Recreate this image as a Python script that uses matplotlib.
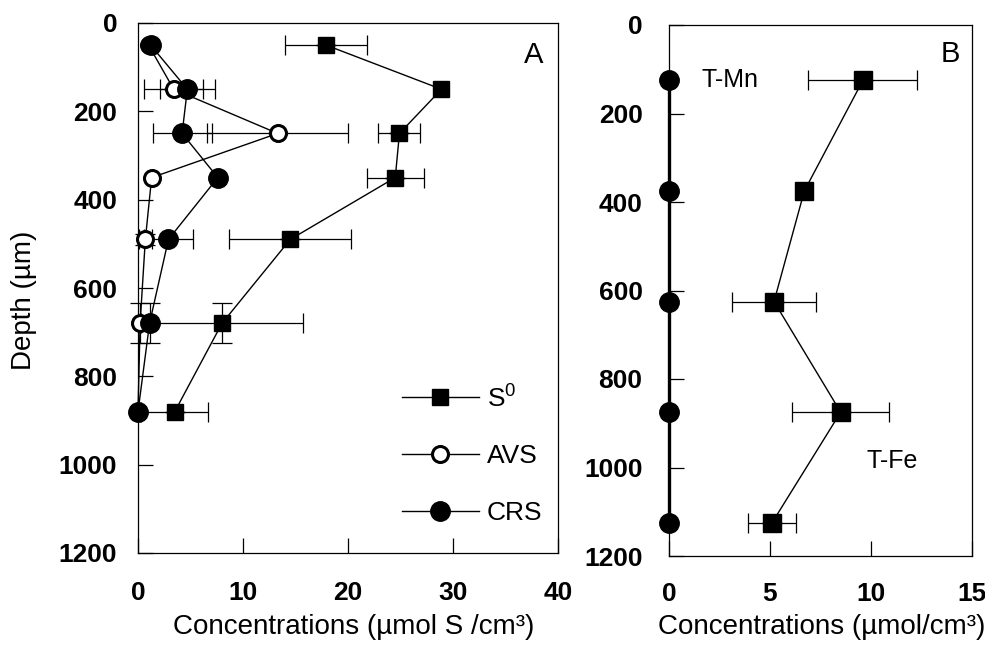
import numpy as np
import matplotlib
matplotlib.use("Agg")
import matplotlib.pyplot as plt

plt.rcParams["font.family"] = ["Liberation Sans", "DejaVu Sans"]
plt.rcParams["mathtext.fontset"] = "custom"
plt.rcParams["mathtext.rm"] = "Liberation Sans"

# panel A: sulfur species vs depth
depth_a = np.array([50, 150, 250, 350, 490, 680, 880])
s0 = np.array([17.9, 28.9, 24.9, 24.5, 14.5, 8.0, 3.5])
s0_xerr = np.array([3.9, 0, 2.0, 2.7, 5.8, 7.7, 3.2])
s0_yerr = np.array([0, 0, 0, 0, 0, 45, 0])
avs = np.array([1.0, 3.4, 13.3, 1.3, 0.7, 0.2, 0.0])
avs_xerr = np.array([0, 2.8, 6.7, 0, 0.6, 0, 0])
avs_yerr = np.array([0, 0, 0, 0, 12, 45, 0])
crs = np.array([1.2, 4.7, 4.2, 7.6, 2.9, 1.1, 0.0])
crs_xerr = np.array([0, 2.6, 2.8, 0, 2.3, 0, 0])
crs_yerr = np.array([0, 0, 0, 0, 0, 45, 0])

# panel B: total Mn and Fe
depth_b = np.array([125, 375, 625, 875, 1125])
t_mn = np.array([0, 0, 0, 0, 0])
t_fe = np.array([9.6, 6.7, 5.2, 8.5, 5.1])
t_fe_err = np.array([2.7, 0, 2.1, 2.4, 1.2])

W, H = 985, 653
fig = plt.figure(figsize=(W / 100, H / 100), dpi=100)
axA = fig.add_axes([138 / W, 1 - 553 / H, 420 / W, 530 / H])
axB = fig.add_axes([669 / W, 1 - 556 / H, 303 / W, 531 / H])


def bars(ax, x, y, xe, ye):
    m = (xe > 0) | (ye > 0)
    ax.errorbar(x[m], y[m], xerr=xe[m], yerr=ye[m], fmt="none", ecolor="k",
                elinewidth=0.9, capsize=7, capthick=0.9, zorder=2, clip_on=False)


bars(axA, s0, depth_a, s0_xerr, s0_yerr)
bars(axA, avs, depth_a, avs_xerr, avs_yerr)
bars(axA, crs, depth_a, crs_xerr, crs_yerr)
axA.plot(s0, depth_a, "-s", color="k", lw=1.0, ms=12, label=r"S$^{\mathrm{0}}$",
         zorder=3, clip_on=False)
axA.plot(avs, depth_a, "-o", color="k", mfc="white", mew=2.2, lw=1.0, ms=11.5,
         label="AVS", zorder=3, clip_on=False)
axA.plot(crs, depth_a, "-o", color="k", lw=1.0, ms=14, label="CRS", zorder=4,
         clip_on=False)

bars(axB, t_fe, depth_b, t_fe_err, np.zeros_like(t_fe_err))
axB.plot(t_mn, depth_b, "-o", color="k", lw=2.4, ms=14, zorder=4, clip_on=False)
axB.plot(t_fe, depth_b, "-s", color="k", lw=1.0, ms=13, zorder=3, clip_on=False)

for ax, xmax, xt in [(axA, 40, [0, 10, 20, 30, 40]), (axB, 15, [0, 5, 10, 15])]:
    ax.set_xlim(0, xmax)
    ax.set_ylim(1200, 0)
    ax.set_xticks(xt)
    ax.set_yticks(range(0, 1201, 200))
    ax.tick_params(direction="in", length=11, width=0.9, labelsize=19,
                   top=False, right=False)
    for lab in ax.get_xticklabels() + ax.get_yticklabels():
        lab.set_fontweight("bold")
    for s in ax.spines.values():
        s.set_linewidth(0.9)

axA.tick_params(axis="y", pad=15)
axA.tick_params(axis="x", pad=20)
axB.tick_params(axis="y", pad=19)
axB.tick_params(axis="x", pad=19)

leg = axA.legend(loc="upper left", bbox_to_anchor=(0.629, 0.32), frameon=False,
                 fontsize=19, handlelength=2.9, handletextpad=0.3,
                 labelspacing=1.25, borderpad=0, borderaxespad=0)

axA.text(0.965, 0.94, "A", transform=axA.transAxes, fontsize=21,
         ha="right", va="center")
axB.text(0.96, 0.945, "B", transform=axB.transAxes, fontsize=21,
         ha="right", va="center")
axB.text(1.6, 125, "T-Mn", fontsize=18, va="center", ha="left")
axB.text(9.8, 985, "T-Fe", fontsize=18, va="center", ha="left")

fig.text(24 / W, 1 - 300 / H, "Depth (µm)", rotation=90, fontsize=20,
         ha="center", va="center")
fig.text(354 / W, 1 - 627 / H, "Concentrations (µmol S /cm³)", fontsize=20,
         ha="center", va="center")
fig.text(822 / W, 1 - 627 / H, "Concentrations (µmol/cm³)", fontsize=20,
         ha="center", va="center")

fig.savefig("out.png", dpi=100)
